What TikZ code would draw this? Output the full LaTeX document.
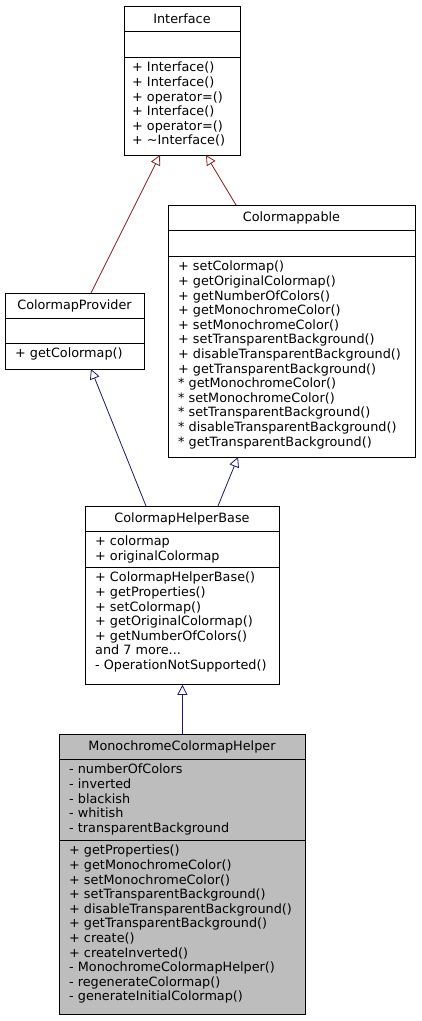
\documentclass[tikz,border=0pt]{standalone}
\usepackage{fontspec}
\setmainfont{DejaVu Sans}
\usetikzlibrary{arrows.meta}
\definecolor{inh}{HTML}{191970}
\definecolor{priv}{HTML}{8B1A1A}
\begin{document}
\begin{tikzpicture}[x=1pt,y=-1pt,
 box/.style={draw,anchor=north west,inner sep=0,line width=0.8pt},
 txt/.style={anchor=north west,inner sep=0,align=left,font=\fontsize{12.8}{14.6}\selectfont},
 ttl/.style={anchor=center,inner sep=0,font=\fontsize{12.8}{14.6}\selectfont},
 sep/.style={line width=0.8pt},
 ar/.style={-{Triangle[open,length=10pt,width=10pt]},line width=0.8pt}]
\useasboundingbox (0,0) rectangle (421,1021);
% Interface
\node[box,minimum width=116,minimum height=149] (if) at (124,6) {};
\node[ttl] (ift) at (182,18.5) {Interface};
\draw[sep] (124,31) -- (240,31) (124,57) -- (240,57);
\node[txt] (ifm) at (132,62) {+ Interface()\\+ Interface()\\+ operator=()\\+ Interface()\\+ operator=()\\+ \textasciitilde Interface()};
% Colormappable
\node[box,minimum width=247,minimum height=252] (cm) at (168,205) {};
\node[ttl] (cmt) at (291.5,217.5) {Colormappable};
\draw[sep] (168,230) -- (415,230) (168,256) -- (415,256);
\node[txt] (cmm) at (178,261) {+ setColormap()\\+ getOriginalColormap()\\+ getNumberOfColors()\\+ getMonochromeColor()\\+ setMonochromeColor()\\+ setTransparentBackground()\\+ disableTransparentBackground()\\+ getTransparentBackground()\\* getMonochromeColor()\\* setMonochromeColor()\\* setTransparentBackground()\\* disableTransparentBackground()\\* getTransparentBackground()};
% ColormapProvider
\node[box,minimum width=139,minimum height=76] (cp) at (5,293) {};
\node[ttl] (cpt) at (74.5,305.5) {ColormapProvider};
\draw[sep] (5,318) -- (144,318) (5,343) -- (144,343);
\node[txt] (cpm) at (15,348) {+ getColormap()};
% ColormapHelperBase
\node[box,minimum width=194,minimum height=178] (hb) at (85,506) {};
\node[ttl] (hbt) at (182,518.5) {ColormapHelperBase};
\draw[sep] (85,531) -- (279,531) (85,567) -- (279,567);
\node[txt] (hba) at (95,536) {+ colormap\\+ originalColormap};
\node[txt] (hbm) at (95,572) {+ ColormapHelperBase()\\+ getProperties()\\+ setColormap()\\+ getOriginalColormap()\\+ getNumberOfColors()\\and 7 more...\\- OperationNotSupported()};
% MonochromeColormapHelper
\node[box,fill=black!26,minimum width=246,minimum height=280] (mh) at (59,734) {};
\node[ttl] (mht) at (182,746.5) {MonochromeColormapHelper};
\draw[sep] (59,759) -- (305,759) (59,840) -- (305,840);
\node[txt] (mha) at (69,764) {- numberOfColors\\- inverted\\- blackish\\- whitish\\- transparentBackground};
\node[txt] (mhm) at (69,845) {+ getProperties()\\+ getMonochromeColor()\\+ setMonochromeColor()\\+ setTransparentBackground()\\+ disableTransparentBackground()\\+ getTransparentBackground()\\+ create()\\+ createInverted()\\- MonochromeColormapHelper()\\- regenerateColormap()\\- generateInitialColormap()};
% connectors
\coordinate (a1) at (91,293); \coordinate (b1) at (160,155);
\coordinate (a2) at (236,205); \coordinate (b2) at (206,155);
\coordinate (a3) at (146,506); \coordinate (b3) at (91,369);
\coordinate (a4) at (218,506); \coordinate (b4) at (238,457);
\draw[ar,priv] (a1) -- (b1);
\draw[ar,priv] (a2) -- (b2);
\draw[ar,inh] (a3) -- (b3);
\draw[ar,inh] (a4) -- (b4);
\draw[ar,inh] (mh.north) -- (hb.south);
\end{tikzpicture}
\end{document}
